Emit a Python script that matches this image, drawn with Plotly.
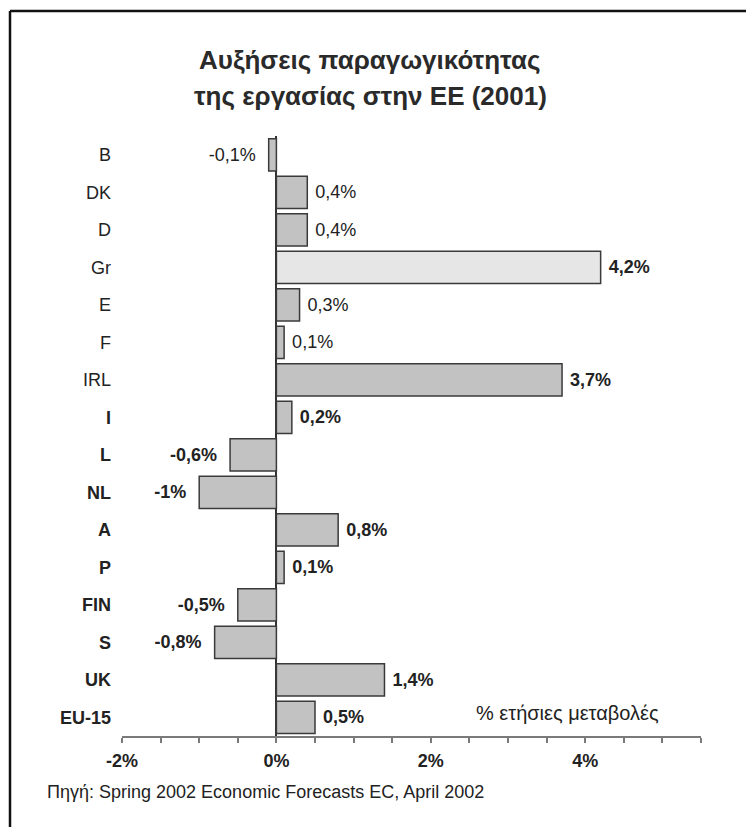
import plotly.graph_objects as go

# ---- data ----
countries = ["B", "DK", "D", "Gr", "E", "F", "IRL", "I", "L", "NL", "A", "P", "FIN", "S", "UK", "EU-15"]
growth = [-0.1, 0.4, 0.4, 4.2, 0.3, 0.1, 3.7, 0.2, -0.6, -1.0, 0.8, 0.1, -0.5, -0.8, 1.4, 0.5]
value_labels = ["-0,1%", "0,4%", "0,4%", "4,2%", "0,3%", "0,1%", "3,7%", "0,2%", "-0,6%", "-1%",
                "0,8%", "0,1%", "-0,5%", "-0,8%", "1,4%", "0,5%"]
bold_country = [False, False, False, False, False, False, False, True, True, True, True, True, True, True, True, True]
bold_value = [False, False, False, True, False, False, True, True, True, True, True, True, True, True, True, True]
highlight = "Gr"
x_tick_vals = [-2, -1.5, -1, -0.5, 0, 0.5, 1, 1.5, 2, 2.5, 3, 3.5, 4, 4.5, 5, 5.5]
x_tick_text = ["-2%", "", "", "", "0%", "", "", "", "2%", "", "", "", "4%", "", "", ""]

title_lines = ["Αυξήσεις παραγωγικότητας", "της εργασίας στην ΕΕ (2001)"]
unit_note = "% ετήσιες μεταβολές"
source_note = "Πηγή: Spring 2002 Economic Forecasts EC, April 2002"

# ---- layout geometry (pixels) ----
W, H = 746, 827
L, R, T, B = 122, 701, 136, 736
pw, ph = R - L, B - T
FONT = "Liberation Sans, Arial, Helvetica, sans-serif"
INK = "#222222"


def px(x):
    return (x - L) / pw


def py(y):
    return (B - y) / ph


fills = ["#e6e6e6" if c == highlight else "#c2c2c2" for c in countries]
texts = []
for t, b, v in zip(value_labels, bold_value, growth):
    s = f"<b>{t}</b>" if b else t
    texts.append(" " + s if v >= 0 else s + "  ")
ytext = [f"<b>{c}</b>" if b else c for c, b in zip(countries, bold_country)]

fig = go.Figure()
fig.add_trace(go.Bar(
    x=growth, y=countries, orientation="h",
    marker=dict(color=fills, line=dict(color="#3a3a3a", width=1.5)),
    text=texts, textposition="outside", cliponaxis=False,
    textfont=dict(family=FONT, size=18, color=INK),
    hoverinfo="skip",
))

fig.update_layout(
    width=W, height=H,
    margin=dict(l=L, r=W - R, t=T, b=H - B, pad=0),
    paper_bgcolor="white", plot_bgcolor="white",
    showlegend=False, bargap=0.14,
    font=dict(family=FONT, color=INK),
    uniformtext=dict(minsize=8, mode="show"),
    xaxis=dict(
        range=[-2, 5.5], tickvals=x_tick_vals, ticktext=x_tick_text,
        showgrid=False, zeroline=True, zerolinecolor="#333333", zerolinewidth=1.5,
        showline=True, linecolor="#7a7a7a", linewidth=2,
        ticks="outside", ticklen=5, tickwidth=1.5, tickcolor="#7a7a7a",
        tickfont=dict(size=18, family=FONT, color=INK, weight="bold"),
        ticklabelstandoff=2,
    ),
    yaxis=dict(
        categoryorder="array", categoryarray=countries,
        range=[len(countries) - 0.5, -0.5],
        tickvals=countries, ticktext=ytext,
        showgrid=False, showline=False, ticks="",
        tickfont=dict(size=18, family=FONT, color=INK),
        ticklabelstandoff=10,
    ),
)

annotations = [
    dict(text="<b>" + title_lines[0] + "</b>", x=px(369), y=py(60), xanchor="center", yanchor="middle",
         font=dict(family=FONT, size=26, color="#2a2a2a")),
    dict(text="<b>" + title_lines[1] + "</b>", x=px(370), y=py(96), xanchor="center", yanchor="middle",
         font=dict(family=FONT, size=26, color="#2a2a2a")),
    dict(text=unit_note, x=px(567), y=py(713), xanchor="center", yanchor="middle",
         font=dict(family=FONT, size=20, color=INK)),
    dict(text=source_note, x=px(45), y=py(792), xanchor="left", yanchor="middle",
         font=dict(family=FONT, size=18, color=INK)),
]
for a in annotations:
    a.update(xref="paper", yref="paper", showarrow=False)
fig.update_layout(annotations=annotations)

# frame (left and top edges visible)
fig.add_shape(type="line", xref="paper", yref="paper", x0=px(10), x1=px(W + 5), y0=py(11), y1=py(11),
              line=dict(color="#111111", width=2.5))
fig.add_shape(type="line", xref="paper", yref="paper", x0=px(10), x1=px(10), y0=py(11), y1=py(H + 5),
              line=dict(color="#111111", width=2.5))

fig.write_html("out.html", config={"displayModeBar": False},
               post_script="document.body.style.margin='0px';")
